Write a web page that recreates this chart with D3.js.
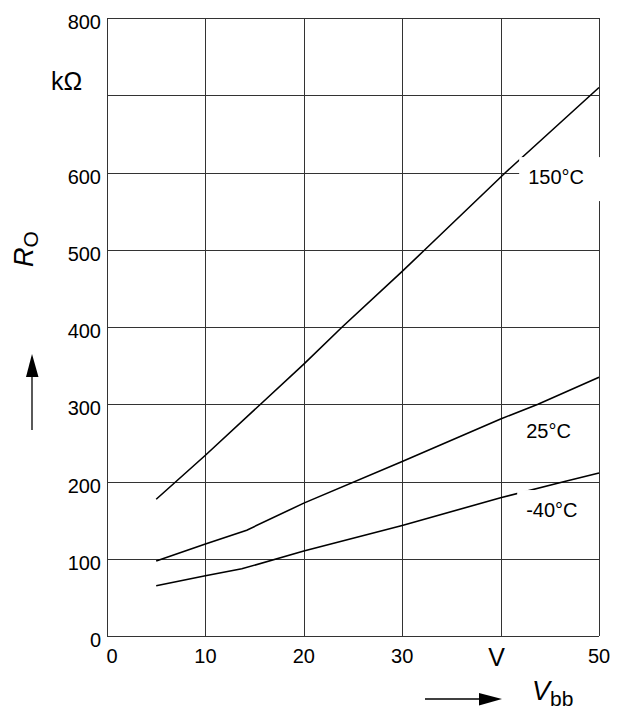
<!DOCTYPE html>
<html lang="en">

<head>
	<meta charset="utf-8">
	<style>
		body {
			margin: 0;
			background-color: white;
		}

		svg {
			font-family: 'Liberation Sans', Arial, sans-serif;
		}

		.grid line {
			stroke: #333;
			stroke-width: 1.1px;
			shape-rendering: crispEdges;
		}

		.curve {
			fill: none;
			stroke: black;
			stroke-width: 1.6px;
		}

		text {
			fill: black;
		}
	</style>
</head>

<body>
	<svg width=623 height=709></svg>
	<script src="https://d3js.org/d3.v7.min.js"></script>
	<script>
		// values
		const vbb150 = [5, 10, 15.6, 20, 23.9, 30, 32.3, 40.5, 50]
		const ro150 = [177, 234, 300, 352, 400, 472, 500, 600, 710]

		const vbb25 = [5, 10, 14.2, 20, 30, 40, 43.8, 50]
		const ro25 = [97, 119, 137, 172, 226, 281, 300, 335]

		const vbbM40 = [5, 10, 13.7, 20, 30, 40, 46.5, 50]
		const roM40 = [65, 78, 87, 110, 143, 179, 200, 211]

		const xTicks = [0, 10, 20, 30, 40, 50]
		const xTickLabels = ["0", "10", "20", "30", "V", "50"]
		const yTicks = [0, 100, 200, 300, 400, 500, 600, 700, 800]
		const yTickLabels = ["0", "100", "200", "300", "400", "500", "600", "kΩ", "800"]

		const curveNames = ["150°C", "25°C", "-40°C"]
		// where each name sits, in chart units (Vbb, kΩ)
		const labelVbb = [42.8, 42.6, 42.6]
		const labelRo = [585, 256, 154]
		// white patch behind the name: 0 none, 1 up to the text, 2 over the frame
		const labelPatch = [2, 0, 1]

		//basic set up
		const width = 623
		const height = 709
		const margin = { top: 18, bottom: 73, left: 107, right: 24 }

		const x = d3.scaleLinear().domain([0, 50]).range([margin.left, width - margin.right])
		const y = d3.scaleLinear().domain([0, 800]).range([height - margin.bottom, margin.top])
		const svg = d3.select("svg")

		// grid + frame
		const grid = svg.append("g").attr("class", "grid")
		grid.selectAll("line.v")
			.data(xTicks)
			.enter().append("line")
			.attr("class", "v")
			.attr("x1", d => Math.round(x(d)) + 0.5)
			.attr("x2", d => Math.round(x(d)) + 0.5)
			.attr("y1", y(800))
			.attr("y2", y(0))
		grid.selectAll("line.h")
			.data(yTicks)
			.enter().append("line")
			.attr("class", "h")
			.attr("x1", x(0))
			.attr("x2", x(50))
			.attr("y1", d => Math.round(y(d)) + 0.5)
			.attr("y2", d => Math.round(y(d)) + 0.5)

		// tick labels
		svg.append("g")
			.selectAll("text")
			.data(xTicks)
			.enter().append("text")
			.attr("x", (d, i) => x(d) + (i === 0 ? 5 : i === 4 ? -4 : 0))
			.attr("y", (d, i) => y(0) + (i === 4 ? 30 : 27))
			.attr("text-anchor", "middle")
			.style("font-size", (d, i) => i === 4 ? "25px" : "20px")
			.text((d, i) => xTickLabels[i])

		svg.append("g")
			.selectAll("text")
			.data(yTicks)
			.enter().append("text")
			.attr("x", (d, i) => i === 7 ? 51 : x(0) - 6)
			.attr("y", (d, i) => i === 7 ? y(d) - 5 : y(d) + 11)
			.attr("text-anchor", (d, i) => i === 7 ? "start" : "end")
			.style("font-size", (d, i) => i === 7 ? "25px" : "20px")
			.text((d, i) => yTickLabels[i])

		// curves
		const line = d3.line()
			.x(d => x(d[0]))
			.y(d => y(d[1]))

		const series = [
			d3.zip(vbb150, ro150),
			d3.zip(vbb25, ro25),
			d3.zip(vbbM40, roM40)
		]

		svg.append("g")
			.selectAll("path")
			.data(series)
			.enter().append("path")
			.attr("class", "curve")
			.attr("d", line)

		// curve names, some with a white patch behind
		const labels = svg.append("g")
		curveNames.forEach(function (name, i) {
			const g = labels.append("g")
			const t = g.append("text")
				.attr("x", x(labelVbb[i]))
				.attr("y", y(labelRo[i]))
				.style("font-size", "20px")
				.text(name)
			if (labelPatch[i] > 0) {
				const b = t.node().getBBox()
				const right = labelPatch[i] === 2 ? x(50) + 8 : b.x + b.width + 8
				g.insert("rect", "text")
					.attr("x", b.x - 9)
					.attr("y", b.y - 9)
					.attr("width", right - b.x + 9)
					.attr("height", b.height + 22)
					.attr("fill", "white")
			}
		})

		// axis titles with arrows
		const arrow = svg.append("g")
		arrow.append("line")
			.attr("x1", 32).attr("x2", 32)
			.attr("y1", 430).attr("y2", 370)
			.attr("stroke", "black").attr("stroke-width", 1.3)
		arrow.append("path")
			.attr("d", "M32,354 L26,377 L38.5,377 Z")
			.attr("fill", "black")
		arrow.append("line")
			.attr("x1", 425).attr("x2", 485)
			.attr("y1", 699).attr("y2", 699)
			.attr("stroke", "black").attr("stroke-width", 1.3)
		arrow.append("path")
			.attr("d", "M502,699 L479,693 L479,705.5 Z")
			.attr("fill", "black")

		const yTitle = svg.append("text")
			.attr("transform", "translate(33,267) rotate(-90)")
		yTitle.append("tspan")
			.style("font-size", "27px")
			.style("font-style", "italic")
			.text("R")
		yTitle.append("tspan")
			.attr("dy", 5)
			.style("font-size", "21px")
			.text("O")

		const xTitle = svg.append("text")
			.attr("x", 532)
			.attr("y", 700)
		xTitle.append("tspan")
			.style("font-size", "27px")
			.style("font-style", "italic")
			.text("V")
		xTitle.append("tspan")
			.attr("dy", 6)
			.style("font-size", "21px")
			.text("bb")
	</script>
</body>

</html>
